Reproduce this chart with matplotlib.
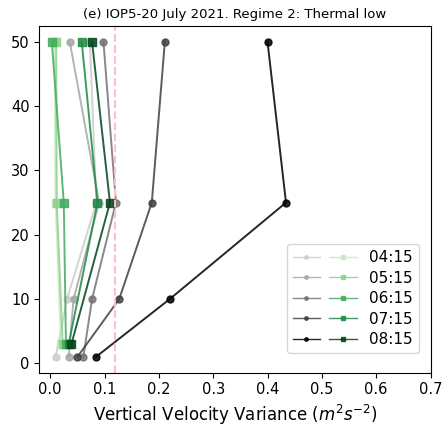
import matplotlib
matplotlib.use('Agg')
import matplotlib.pyplot as plt
from matplotlib.lines import Line2D
from matplotlib.legend_handler import HandlerTuple

times = ['04:15', '05:15', '06:15', '07:15', '08:15']

# grey profiles (circles)
grey_heights = [1, 10, 25, 50]
grey_var = [
    [0.010, 0.031, 0.085, 0.073],
    [0.034, 0.043, 0.090, 0.036],
    [0.061, 0.077, 0.121, 0.098],
    [0.050, 0.127, 0.187, 0.211],
    [0.084, 0.220, 0.434, 0.400],
]
grey_colors = ['#cccccc', '#a6a6a6', '#737373', '#404040', '#000000']

# green profiles (squares)
green_heights = [3, 25, 50]
green_var = [
    [0.020, 0.010, 0.008],
    [0.023, 0.012, 0.011],
    [0.029, 0.025, 0.003],
    [0.034, 0.087, 0.058],
    [0.039, 0.110, 0.077],
]
green_colors = ['#c7e9c0', '#8ed18a', '#41ab5d', '#1b8a42', '#00441b']

threshold = 0.12

fig = plt.figure(figsize=(4.42, 4.26), dpi=100)
ax = fig.add_axes([0.089, 0.125, 0.885, 0.814])

handles = []
for i in range(len(times)):
    ax.plot(grey_var[i], grey_heights, '-o', color=grey_colors[i], lw=1.4, ms=5, alpha=0.85)
    ax.plot(green_var[i], green_heights, '-s', color=green_colors[i], lw=1.4, ms=6, alpha=0.85)
    hg = Line2D([], [], color=grey_colors[i], marker='o', ms=2.5, lw=1, alpha=0.85)
    hs = Line2D([], [], color=green_colors[i], marker='s', ms=2.5, lw=1, alpha=0.85)
    handles.append((hg, hs))

ax.axvline(threshold, color='pink', ls='--', lw=1.5)

ax.set_xlim(-0.02, 0.7)
ax.set_ylim(-1.45, 52.45)
ax.set_xticks([0.0, 0.1, 0.2, 0.3, 0.4, 0.5, 0.6, 0.7])
ax.set_yticks([0, 10, 20, 30, 40, 50])
ax.tick_params(labelsize=10.5)
ax.set_xlabel('Vertical Velocity Variance ($m^2s^{-2}$)', fontsize=12)
ax.set_title('(e) IOP5-20 July 2021. Regime 2: Thermal low', fontsize=9.5)

ax.legend(handles, times, handler_map={tuple: HandlerTuple(ndivide=None, pad=0.6)},
          loc='lower right', bbox_to_anchor=(0.99, 0.035), fontsize=11,
          handlelength=4.2, labelspacing=0.35)

fig.savefig('out.png', dpi=100)
